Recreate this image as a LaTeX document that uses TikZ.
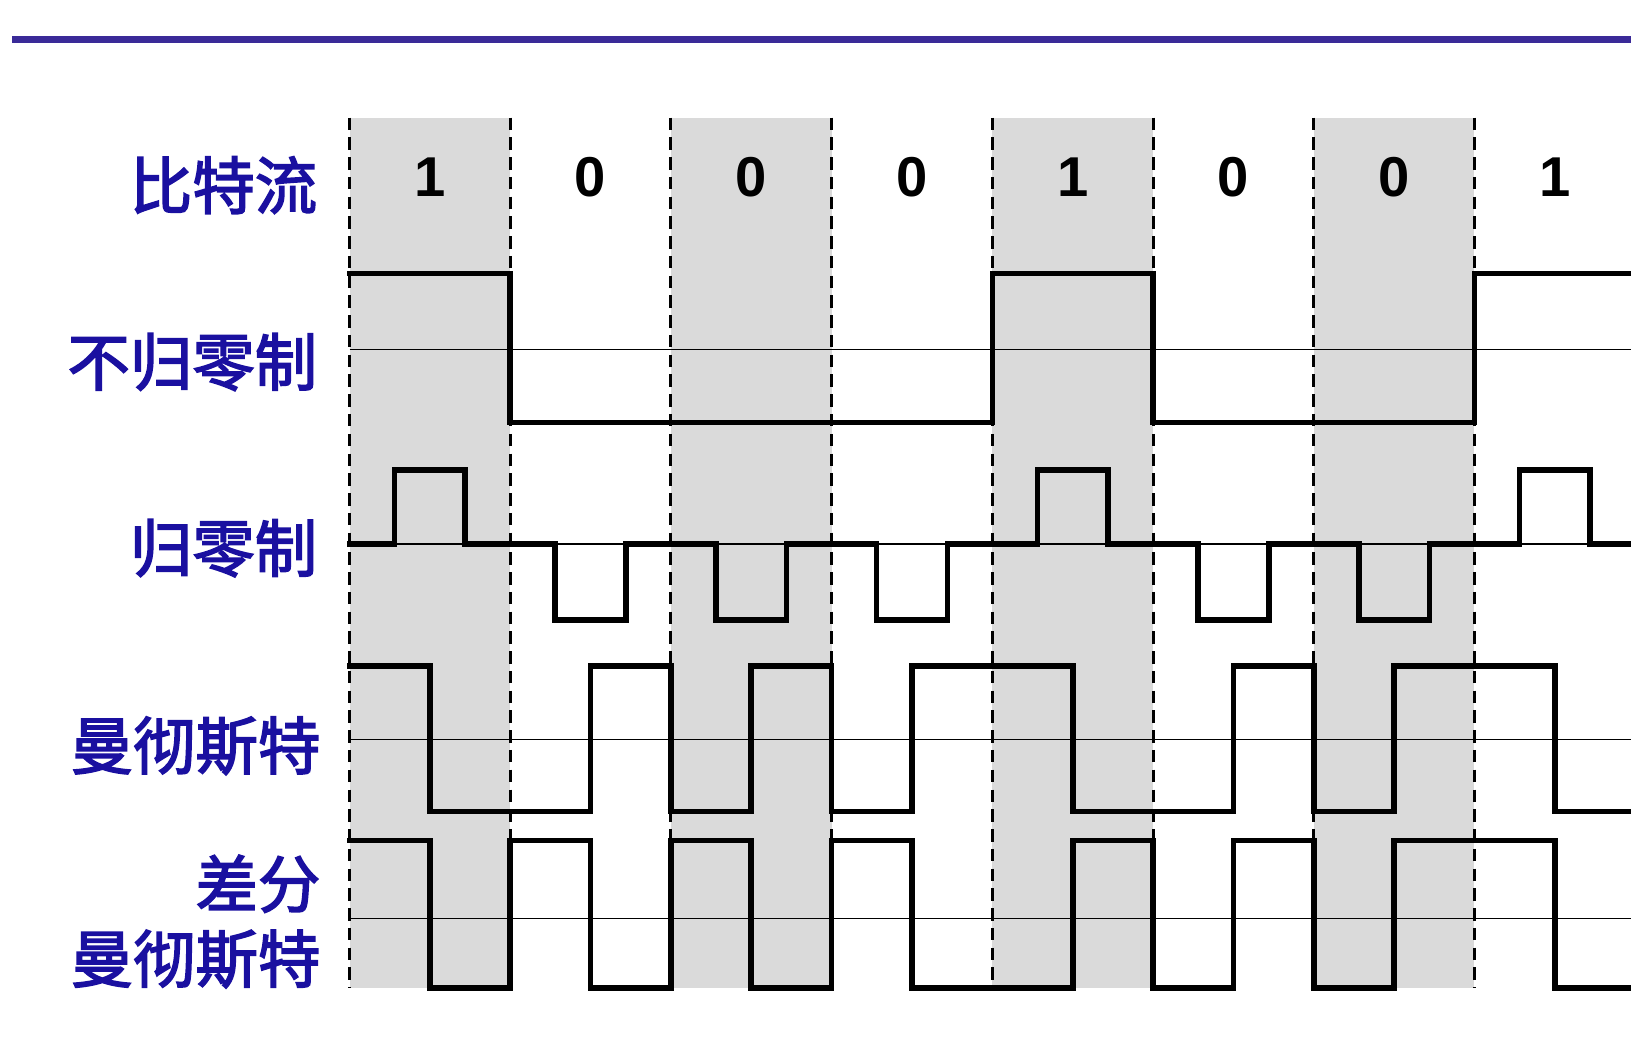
\documentclass[tikz,border=0pt]{standalone}
\usepackage{fontspec}
\setmainfont{Liberation Sans}
\newfontfamily\cjk[FakeBold=2.5]{Noto Sans CJK SC}
\definecolor{labelblue}{RGB}{26,16,160}
\definecolor{ruleblue}{RGB}{58,42,152}
\definecolor{cellgray}{RGB}{218,218,218}

\begin{document}
\begin{tikzpicture}[
    x=154.5pt, y=-1pt,
    signal/.style={line width=5.4pt, line join=miter, line cap=rect},
    axis/.style={line width=1.6pt},
    boundary/.style={line width=2.8pt, dash pattern=on 12pt off 7pt},
    shade/.style={fill=cellgray},
    rowlabel/.style={anchor=east, text=labelblue, font=\cjk\fontsize{60}{72}\selectfont, align=right, inner sep=0pt},
    bitlabel/.style={font=\bfseries\fontsize{54}{60}\selectfont, inner sep=0pt}
]
\useasboundingbox (-2.1748,0) rectangle (7.9741,1003.6);

% Title rule
\draw[ruleblue, line width=6pt] (-2.097,38) -- (8,38);

% Shaded bit cells
\foreach \i in {0,2,4,6}
  \fill[shade] (\i,113) rectangle (\i+1,950);

% Reference lines
\foreach \y in {336,523,711,883}
  \draw[axis] (0,\y) -- (8,\y);

% Bit boundaries
\foreach \i in {0,...,8}
  \draw[boundary] (\i,113) -- (\i,950);

% Bit stream
\foreach \b [count=\i from 0] in {1,0,0,0,1,0,0,1}
  \node[bitlabel] (bit\i) at (\i+0.5,170) {\b};

% Row labels
\node[rowlabel] (lblbits) at (-0.2,178) {比特流};
\node[rowlabel] (lblnrz) at (-0.2,348) {不归零制};
\node[rowlabel] (lblrz) at (-0.2,527) {归零制};
\node[rowlabel] (lblman) at (-0.18,717) {曼彻斯特};
\node[rowlabel] (lbldiff) at (-0.18,886) {差分\\曼彻斯特};

% Non-return-to-zero
\draw[signal] (0,263) -| (1,406) -| (4,263) -| (5,406) -| (7,263) -- (8,263);

% Return-to-zero
\foreach \b [count=\i from 0] in {1,0,0,0,1,0,0,1} {
  \pgfmathsetmacro{\lvl}{\b==1 ? 452 : 596}
  \draw[signal] (\i,523) -- (\i+0.28,523) |- (\i+0.72,\lvl) |- (\i+1,523);
}

% Manchester
\draw[signal] (0,640) -| (0.5,780) -| (1.5,640) -| (2,780) -| (2.5,640) -| (3,780)
  -| (3.5,640) -| (4.5,780) -| (5.5,640) -| (6,780) -| (6.5,640) -| (7.5,780) -- (8,780);

% Differential Manchester
\draw[signal] (0,808) -| (0.5,950) -| (1,808) -| (1.5,950) -| (2,808) -| (2.5,950)
  -| (3,808) -| (3.5,950) -| (4.5,808) -| (5,950) -| (5.5,808) -| (6,950)
  -| (6.5,808) -| (7.5,950) -- (8,950);

\end{tikzpicture}
\end{document}
